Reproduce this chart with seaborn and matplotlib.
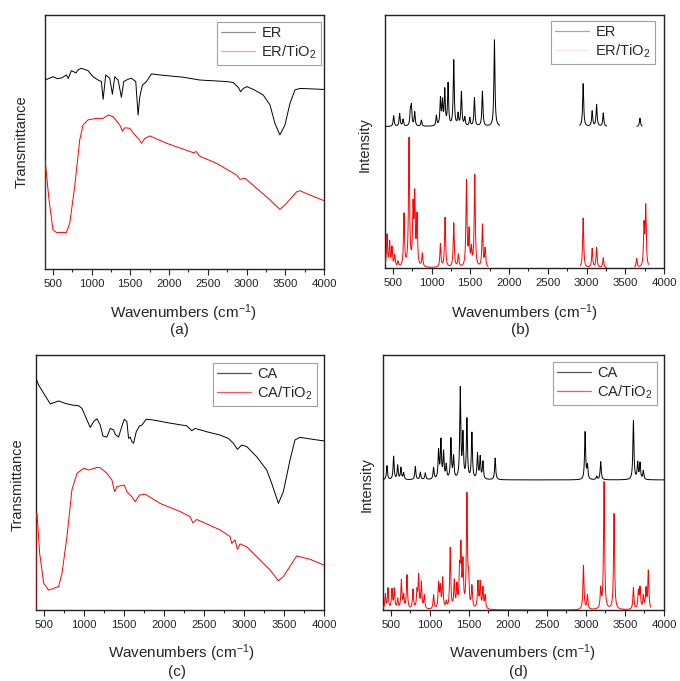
import numpy as np
import pandas as pd
import matplotlib
matplotlib.use("Agg")
import matplotlib.pyplot as plt
import seaborn as sns

# ---------------- (a) FTIR of epoxy resin ----------------
er_ir_wn = [400, 505, 560, 620, 676, 700, 740, 800, 830, 870, 955, 1020, 1085, 1128, 1150,
            1184, 1235, 1270, 1300, 1343, 1386, 1416, 1472, 1515, 1571, 1601, 1623, 1657,
            1709, 1774, 1881, 2183, 2398, 2743, 2829, 2894, 2924, 2960, 3003, 3089, 3216,
            3303, 3367, 3431, 3496, 3561, 3625, 3690, 4000]
er_ir_t = [74.4, 75.7, 74.9, 75.3, 76.4, 75.0, 78.1, 77.2, 78.5, 79.0, 78.1, 75.7, 74.4, 73.8, 66.8,
           76.4, 75.1, 68.8, 75.7, 74.4, 67.6, 73.8, 74.7, 75.1, 73.8, 60.6, 67.8, 72.4,
           73.8, 76.8, 76.4, 75.5, 74.4, 73.8, 73.4, 71.5, 69.8, 71.1, 71.8, 70.7, 68.5,
           64.6, 57.3, 52.8, 56.7, 65.2, 70.5, 71.1, 70.7]

er_tio2_ir_wn = [400, 401, 452, 503, 546, 676, 719, 783, 848, 891, 955, 1063, 1149, 1214, 1278,
                 1365, 1399, 1429, 1494, 1558, 1614, 1645, 1688, 1752, 1968, 2313, 2355, 2390,
                 2614, 2872, 2916, 2981, 3130, 3303, 3431, 3496, 3647, 3690, 3819, 4000]
er_tio2_ir_t = [0.0, 43.0, 27.2, 15.4, 14.4, 14.4, 18.0, 32.4, 50.8, 56.7, 58.7, 59.3, 59.3, 60.6, 60.0,
                56.7, 54.3, 55.6, 55.4, 52.8, 51.0, 49.5, 51.4, 52.4, 49.5, 45.8, 46.2, 44.5,
                41.6, 37.0, 35.3, 35.7, 31.8, 27.2, 23.5, 25.2, 30.4, 30.8, 29.1, 26.9]

# ---------------- (b) calculated spectra of epoxy resin ----------------
er_calc_base = 55.9
er_calc_pos = [512, 589, 633, 727, 740, 783, 869, 1063, 1115, 1141, 1171, 1214, 1287, 1343,
               1386, 1429, 1494, 1554, 1657, 1812, 2957, 3073, 3130, 3216, 3690]
er_calc_int = [4.2, 5.0, 2.7, 5.5, 7.3, 5.5, 2.4, 4.0, 10.5, 9.2, 13.8, 16.5, 25.9, 4.6,
               13.4, 3.3, 3.3, 11.2, 13.8, 34.2, 16.9, 6.0, 8.6, 5.3, 3.3]
er_calc_ranges = [(400, 1880), (2910, 3260), (3650, 3720)]

er_tio2_calc_base = 0.0
er_tio2_calc_pos = [426, 460, 490, 525, 568, 645, 710, 762, 783, 813, 882, 1115, 1175, 1287,
                    1347, 1451, 1485, 1515, 1558, 1657, 1692, 2957, 3073, 3130, 3216, 3647,
                    3742, 3764]
er_tio2_calc_int = [12.8, 9.6, 7.5, 4.6, 2.0, 20.7, 50.4, 22.0, 26.5, 19.3, 5.3, 9.2, 19.7, 17.5,
                    4.9, 33.8, 13.5, 6.6, 36.2, 16.7, 7.2, 19.7, 7.5, 7.9, 3.9, 3.6,
                    16.0, 23.5]
er_tio2_calc_ranges = [(400, 1730), (2920, 3260), (3620, 3800)]

# ---------------- (c) FTIR of cellulose acetate ----------------
ca_ir_wn = [400, 433, 496, 579, 683, 766, 849, 933, 974, 1037, 1078, 1120, 1162, 1203, 1237,
            1286, 1328, 1370, 1390, 1432, 1465, 1503, 1536, 1557, 1578, 1599, 1620, 1653,
            1694, 1723, 1778, 1869, 2036, 2285, 2348, 2390, 2535, 2701, 2805, 2867, 2918,
            2972, 3034, 3159, 3284, 3346, 3430, 3492, 3575, 3637, 3700, 3866, 4000]
ca_ir_t = [90.8, 88.2, 85.0, 80.8, 82.0, 81.0, 80.4, 80.1, 79.1, 74.5, 71.6, 73.9, 75.0, 72.5, 68.2,
           67.8, 71.2, 70.6, 68.9, 67.8, 71.2, 74.8, 73.9, 67.3, 67.8, 66.0, 65.4, 69.9,
           72.2, 72.5, 74.8, 74.5, 73.5, 72.2, 70.3, 71.2, 69.9, 68.6, 67.3, 65.4, 63.0,
           64.7, 64.1, 60.1, 54.9, 49.7, 41.8, 46.4, 58.8, 66.7, 67.7, 66.9, 66.3]

ca_tio2_ir_wn = [400, 401, 412, 446, 496, 558, 683, 725, 787, 849, 912, 995, 1058, 1162, 1203,
                 1286, 1349, 1382, 1411, 1503, 1536, 1599, 1640, 1694, 1765, 1952, 2202, 2327,
                 2360, 2410, 2701, 2826, 2847, 2888, 2918, 2951, 3034, 3159, 3325, 3430, 3492,
                 3658, 3825, 4000]
ca_tio2_ir_t = [0.0, 37.9, 37.9, 22.2, 10.5, 7.8, 9.2, 14.4, 28.8, 47.1, 53.6, 55.6, 54.9, 55.9, 55.8,
                53.6, 51.0, 46.4, 48.4, 49.0, 46.4, 44.4, 42.5, 45.1, 45.4, 41.8, 38.6, 36.6,
                34.2, 35.5, 31.4, 28.8, 26.1, 27.5, 23.8, 25.9, 24.8, 20.9, 15.7, 11.5, 13.1,
                21.2, 19.9, 17.6]

# ---------------- (d) calculated spectra of cellulose acetate ----------------
ca_calc_base = 51.0
ca_calc_pos = [451, 536, 588, 630, 664, 814, 878, 942, 1048, 1112, 1142, 1176, 1210, 1270,
               1304, 1390, 1424, 1475, 1539, 1611, 1645, 1680, 1837, 2989, 3019, 3138, 3189,
               3608, 3663, 3693, 3735]
ca_calc_int = [5.5, 9.1, 5.5, 4.6, 2.6, 5.2, 2.9, 2.6, 4.6, 11.0, 14.9, 10.3, 5.2, 15.6,
               8.5, 35.3, 16.8, 23.3, 18.0, 9.8, 8.5, 6.8, 8.5, 18.6, 5.2, 1.3, 7.1,
               23.1, 6.5, 6.3, 3.3]
ca_calc_ranges = [(400, 4000)]

ca_tio2_calc_base = 0.0
ca_tio2_calc_pos = [430, 464, 515, 545, 588, 635, 664, 707, 784, 835, 856, 891, 929, 1048,
                    1112, 1134, 1164, 1210, 1261, 1313, 1347, 1381, 1398, 1424, 1475, 1496,
                    1539, 1616, 1645, 1680, 1709, 2968, 3019, 3189, 3232, 3360, 3608, 3672,
                    3693, 3735, 3769, 3799]
ca_tio2_calc_int = [5.9, 8.1, 7.6, 7.8, 3.9, 11.1, 5.2, 13.3, 7.6, 6.5, 12.7, 10.2, 5.2, 5.5,
                    9.8, 8.1, 11.8, 2.6, 23.8, 10.5, 8.5, 13.5, 22.5, 17.0, 43.8, 10.0,
                    8.5, 10.5, 10.2, 8.1, 5.2, 17.3, 5.5, 7.6, 49.9, 37.6, 8.5, 6.9,
                    8.1, 5.0, 7.8, 15.0]
ca_tio2_calc_ranges = [(400, 3830)]

# axis ticks
x_major = [500, 1000, 1500, 2000, 2500, 3000, 3500, 4000]
x_major_labels = ["500", "1000", "1500", "2000", "2500", "3000", "3500", "4000"]
x_minor = [750, 1250, 1750, 2250, 2750, 3250, 3750]

HWHM = 8.0  # Lorentzian half width used to broaden the calculated lines

sns.set_style("white")
plt.rcParams["font.family"] = ["Liberation Sans", "DejaVu Sans"]
plt.rcParams["mathtext.fontset"] = "custom"
plt.rcParams["mathtext.rm"] = "Liberation Sans"
plt.rcParams["mathtext.it"] = "Liberation Sans:italic"

W, H = 680, 681
fig = plt.figure(figsize=(W / 100, H / 100), dpi=100)


def px_axes(l, t, r, b):
    return fig.add_axes([l / W, 1 - b / H, (r - l) / W, (b - t) / H])


def broadened(pos, inten, base, lo, hi):
    x = np.arange(lo, hi + 0.5, 1.0)
    p = np.asarray(pos, float)[:, None]
    a = np.asarray(inten, float)[:, None]
    y = base + (a * HWHM ** 2 / ((x[None, :] - p) ** 2 + HWHM ** 2)).sum(axis=0)
    return x, y


def style_axes(ax):
    ax.set_xlim(400, 4000)
    ax.set_ylim(0, 100)
    ax.set_yticks([])
    ax.set_xticks(x_major, x_major_labels)
    ax.set_xticks(x_minor, minor=True)
    ax.tick_params(axis="x", which="major", direction="out", length=4, width=0.8,
                   labelsize=8.2, pad=3, bottom=True, colors="#222222")
    ax.tick_params(axis="x", which="minor", direction="out", length=2.5, width=0.8,
                   bottom=True, colors="#222222")
    ax.set_xlabel("")
    ax.set_ylabel("")
    for s in ax.spines.values():
        s.set_visible(True)
        s.set_linewidth(1.0)
        s.set_color("#222222")


def draw_legend(ax, corner, labels, colors):
    leg = ax.legend(labels=labels, loc="upper right",
                    bbox_to_anchor=(corner[0] / W, 1 - corner[1] / H),
                    bbox_transform=fig.transFigure, frameon=True, fancybox=False,
                    edgecolor="#8a8a8a", fontsize=10.5, handlelength=2.3,
                    handletextpad=0.45, labelspacing=0.22, borderpad=0.3,
                    borderaxespad=0)
    leg.get_frame().set_linewidth(0.8)
    for line, c in zip(leg.get_lines(), colors):
        line.set_color(c)
        line.set_linewidth(0.9)
    return leg


def ir_panel(ax, wn1, t1, wn2, t2, lab1, lab2):
    sns.lineplot(data=pd.DataFrame({"wn": wn1, "t": t1}), x="wn", y="t", ax=ax,
                 color="black", lw=0.7, estimator=None, sort=False, label=lab1, zorder=3)
    sns.lineplot(data=pd.DataFrame({"wn": wn2, "t": t2}), x="wn", y="t", ax=ax,
                 color="red", lw=0.7, estimator=None, sort=False, label=lab2, zorder=3)


def calc_panel(ax, spec1, spec2, lab1, lab2):
    for spec, color, lab in ((spec1, "black", lab1), (spec2, "red", lab2)):
        pos, inten, base, ranges = spec
        for i, (lo, hi) in enumerate(ranges):
            x, y = broadened(pos, inten, base, lo, hi)
            sns.lineplot(data=pd.DataFrame({"wn": x, "i": y}), x="wn", y="i", ax=ax,
                         color=color, lw=0.7, estimator=None, sort=False,
                         label=lab if i == 0 else None, zorder=3)


# panel frames (pixel boxes)
ax_a = px_axes(45, 15, 324, 269)
ax_b = px_axes(385, 15, 664, 268)
ax_c = px_axes(36, 355, 324, 610)
ax_d = px_axes(383, 355, 664, 610)

ir_panel(ax_a, er_ir_wn, er_ir_t, er_tio2_ir_wn, er_tio2_ir_t, "ER", "ER/TiO$_2$")
ir_panel(ax_c, ca_ir_wn, ca_ir_t, ca_tio2_ir_wn, ca_tio2_ir_t, "CA", "CA/TiO$_2$")
calc_panel(ax_b,
           (er_calc_pos, er_calc_int, er_calc_base, er_calc_ranges),
           (er_tio2_calc_pos, er_tio2_calc_int, er_tio2_calc_base, er_tio2_calc_ranges),
           "ER", "ER/TiO$_2$")
calc_panel(ax_d,
           (ca_calc_pos, ca_calc_int, ca_calc_base, ca_calc_ranges),
           (ca_tio2_calc_pos, ca_tio2_calc_int, ca_tio2_calc_base, ca_tio2_calc_ranges),
           "CA", "CA/TiO$_2$")

for ax in (ax_a, ax_b, ax_c, ax_d):
    style_axes(ax)

draw_legend(ax_a, (321, 22), ["ER", "ER/TiO$_2$"], ["#909090", "#ff9a9a"])
draw_legend(ax_b, (655, 21), ["ER", "ER/TiO$_2$"], ["#a8a8a8", "#ffe4e4"])
draw_legend(ax_c, (317, 363), ["CA", "CA/TiO$_2$"], ["#555555", "#ff5555"])
draw_legend(ax_d, (657, 362), ["CA", "CA/TiO$_2$"], ["#555555", "#ff5555"])

# axis titles and panel letters
xlab = "Wavenumbers (cm$^{-1}$)"
for cx, ly, lett, ty in ((183, 313, "(a)", 330), (524, 313, "(b)", 330),
                         (181, 653, "(c)", 672), (522, 653, "(d)", 672)):
    fig.text(cx / W, 1 - ly / H, xlab, ha="center", va="center", fontsize=11)
    fig.text((cx - 4) / W, 1 - ty / H, lett, ha="center", va="center", fontsize=11)

for x, y, s in ((22, 142, "Transmittance"), (365, 145, "Intensity"),
                (18, 485, "Transmittance"), (367, 485, "Intensity")):
    fig.text(x / W, 1 - y / H, s, ha="center", va="center", rotation=90, fontsize=10.5)

fig.savefig("out.png", dpi=100, facecolor="white")
